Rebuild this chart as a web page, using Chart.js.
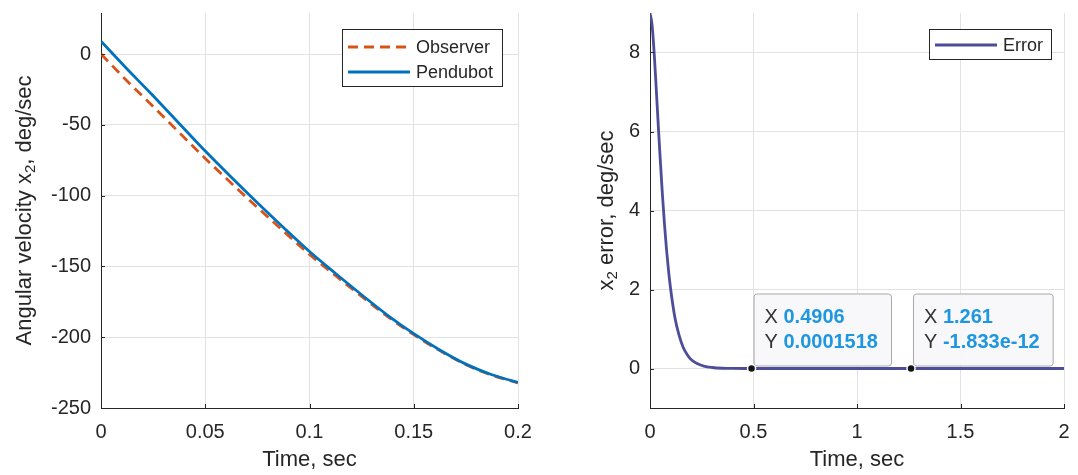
<!DOCTYPE html>
<html>
<head>
<meta charset="utf-8">
<script src="https://cdn.jsdelivr.net/npm/chart.js@4.4.1/dist/chart.umd.min.js"></script>
<style>
html, body { margin: 0; padding: 0; background: #fff; }
#wrap { position: relative; width: 1078px; height: 475px; }
#left { position: absolute; left: 0; top: 0; }
#right { position: absolute; left: 540px; top: 0; }
</style>
</head>
<body>
<div id="wrap">
  <canvas id="left" width="540" height="475"></canvas>
  <canvas id="right" width="538" height="475"></canvas>
</div>
<script>
// left panel: angular velocity x2
const timeLeft = [0, 0.0125, 0.025, 0.0375, 0.05, 0.0625, 0.075, 0.0875, 0.1, 0.1125, 0.125, 0.1375, 0.15, 0.1625, 0.175, 0.1875, 0.2];
const pendubot = [9, -10.5, -29.5, -49, -68.5, -87, -105, -122.5, -139.5, -155, -170, -184.5, -197.5, -209, -219, -226.5, -232];
const observer = [0, -19, -37, -55.4, -73.7, -91.2, -108.3, -125.1, -141.5, -156.5, -171.2, -185.4, -198.2, -209.5, -219.4, -226.8, -232.2];
const xTicksLeft = [0, 0.05, 0.1, 0.15, 0.2];
const yTicksLeft = [-250, -200, -150, -100, -50, 0];

// right panel: x2 error
const timeRight = [0, 0.01, 0.02, 0.03, 0.04, 0.05, 0.06, 0.07, 0.08, 0.09, 0.1, 0.12, 0.14, 0.16, 0.18, 0.2, 0.23, 0.26, 0.3, 0.35, 0.4, 0.4906, 0.6, 0.8, 1, 1.261, 1.5, 2];
const errorVals = [9, 8.7, 8.0, 7.1, 6.15, 5.25, 4.4, 3.65, 3.0, 2.45, 2.0, 1.3, 0.85, 0.54, 0.35, 0.22, 0.12, 0.06, 0.025, 0.006, 0.001, 0.00015, 0, 0, 0, 0, 0, 0];
const xTicksRight = [0, 0.5, 1, 1.5, 2];
const yTicksRight = [0, 2, 4, 6, 8];

// data tips
const tipX = [0.4906, 1.261];
const tipY = [0.0001518, -1.833e-12];
const tipLabels = [['0.4906', '0.0001518'], ['1.261', '-1.833e-12']];

const FONT = '"Liberation Sans", Arial, Helvetica, sans-serif';
const INK = '#262626';

function pts(xs, ys) {
    return xs.map((x, i) => ({ x: x, y: ys[i] }));
}

function axes(xr, xTicks, yr, yTicks, yWidth, xHeight) {
    const tickFont = { family: FONT, size: 20 };
    return {
        x: {
            type: 'linear', min: xr[0], max: xr[1],
            afterBuildTicks: s => { s.ticks = xTicks.map(v => ({ value: v })); },
            afterFit: s => { s.height = xHeight; s.paddingLeft = 0; s.paddingRight = 0; },
            ticks: { font: tickFont, color: INK, padding: 12, maxRotation: 0, autoSkip: false, callback: v => String(v) },
            grid: { color: '#e2e2e2', drawTicks: false },
            border: { color: INK, width: 1 }
        },
        y: {
            type: 'linear', min: yr[0], max: yr[1],
            afterBuildTicks: s => { s.ticks = yTicks.map(v => ({ value: v })); },
            afterFit: s => { s.width = yWidth; s.paddingTop = 0; s.paddingBottom = 0; },
            ticks: { font: tickFont, color: INK, padding: 10, autoSkip: false, callback: v => String(v) },
            grid: { color: '#e2e2e2', drawTicks: false },
            border: { color: INK, width: 1 }
        }
    };
}

// titles, legend, inward ticks and data tips drawn on top of the chart
function decorPlugin(cfg) {
    return {
        id: 'decor',
        afterDraw(chart) {
            const c = chart.ctx;
            const a = chart.chartArea;
            const sx = chart.scales.x, sy = chart.scales.y;
            c.save();

            // inward tick marks
            c.strokeStyle = INK;
            c.lineWidth = 1;
            c.beginPath();
            sx.ticks.forEach(t => {
                const px = Math.round(sx.getPixelForValue(t.value)) + 0.5;
                c.moveTo(px, a.bottom); c.lineTo(px, a.bottom - 4);
            });
            sy.ticks.forEach(t => {
                const py = Math.round(sy.getPixelForValue(t.value)) + 0.5;
                c.moveTo(a.left, py); c.lineTo(a.left + 4, py);
            });
            c.stroke();

            // x title
            c.fillStyle = INK;
            c.font = '22px ' + FONT;
            c.textAlign = 'center';
            c.textBaseline = 'middle';
            c.fillText('Time, sec', (a.left + a.right) / 2, 460);

            // y title with subscript
            c.translate(cfg.yTitleX, (a.top + a.bottom) / 2);
            c.rotate(-Math.PI / 2);
            const parts = cfg.yTitle;
            const big = '22px ' + FONT, small = '15px ' + FONT;
            let w = 0;
            parts.forEach(p => { c.font = p.sub ? small : big; w += c.measureText(p.t).width; });
            let x = -w / 2;
            c.textAlign = 'left';
            parts.forEach(p => {
                c.font = p.sub ? small : big;
                c.fillText(p.t, x, p.sub ? 6 : 0);
                x += c.measureText(p.t).width;
            });
            c.setTransform(1, 0, 0, 1, 0, 0);

            // legend
            const L = cfg.legend;
            c.fillStyle = '#fff';
            c.fillRect(L.x, L.y, L.w, L.h);
            c.strokeStyle = INK;
            c.lineWidth = 1;
            c.strokeRect(L.x + 0.5, L.y + 0.5, L.w, L.h);
            c.font = '18px ' + FONT;
            c.textBaseline = 'middle';
            L.items.forEach((it, i) => {
                const yy = L.y + L.first + i * 25;
                c.strokeStyle = it.color;
                c.lineWidth = 3;
                c.setLineDash(it.dash || []);
                c.beginPath();
                c.moveTo(L.x + 6, yy); c.lineTo(L.x + 68, yy);
                c.stroke();
                c.setLineDash([]);
                c.fillStyle = INK;
                c.fillText(it.label, L.x + 74, yy + 1);
            });

            // data tips
            (cfg.tips || []).forEach(tp => {
                const px = sx.getPixelForValue(tp.x);
                const py = sy.getPixelForValue(tp.y);
                c.font = '20px ' + FONT;
                const wx = c.measureText('X ').width;
                c.font = 'bold 20px ' + FONT;
                const wv = Math.max(c.measureText(tp.lab[0]).width, c.measureText(tp.lab[1]).width);
                const bx = px + 2, by = py - 75, bw = 11 + wx + wv + 13, bh = 72;
                c.fillStyle = 'rgba(248,248,250,0.95)';
                c.strokeStyle = '#a8a8a8';
                c.lineWidth = 1;
                c.beginPath();
                c.roundRect(bx + 0.5, by + 0.5, bw, bh, 3);
                c.fill();
                c.stroke();
                ['X ', 'Y '].forEach((k, j) => {
                    const ty = by + 24 + j * 25;
                    c.font = '20px ' + FONT;
                    c.fillStyle = '#333';
                    c.fillText(k, bx + 11, ty);
                    c.font = 'bold 20px ' + FONT;
                    c.fillStyle = '#1e96e0';
                    c.fillText(tp.lab[j], bx + 11 + wx, ty);
                });
                c.beginPath();
                c.arc(px, py, 4, 0, Math.PI * 2);
                c.fillStyle = '#151515';
                c.fill();
                c.strokeStyle = '#fff';
                c.lineWidth = 1.5;
                c.stroke();
            });
            c.restore();
        }
    };
}

new Chart(document.getElementById('left'), {
    type: 'line',
    data: {
        datasets: [
            { label: 'Observer', data: pts(timeLeft, observer), borderColor: '#d95319', borderWidth: 2.8, borderDash: [10, 6], pointRadius: 0, cubicInterpolationMode: 'monotone', order: 1 },
            { label: 'Pendubot', data: pts(timeLeft, pendubot), borderColor: '#0072bd', borderWidth: 2.8, pointRadius: 0, cubicInterpolationMode: 'monotone', order: 0 }
        ]
    },
    options: {
        responsive: false,
        animation: false,
        layout: { padding: { left: 0, top: 13, right: 22, bottom: 0 } },
        plugins: { legend: { display: false }, tooltip: { enabled: false } },
        scales: axes([0, 0.2], xTicksLeft, [-250, 29], yTicksLeft, 101, 67)
    },
    plugins: [decorPlugin({
        yTitleX: 25,
        yTitle: [{ t: 'Angular velocity x' }, { t: '2', sub: true }, { t: ', deg/sec' }],
        legend: { x: 342, y: 29, w: 160, h: 57, first: 18, items: [
            { label: 'Observer', color: '#d95319', dash: [10, 6] },
            { label: 'Pendubot', color: '#0072bd' }
        ] }
    })]
});

new Chart(document.getElementById('right'), {
    type: 'line',
    data: {
        datasets: [
            { label: 'Error', data: pts(timeRight, errorVals), borderColor: '#4d4d99', borderWidth: 2.8, pointRadius: 0, cubicInterpolationMode: 'monotone' }
        ]
    },
    options: {
        responsive: false,
        animation: false,
        layout: { padding: { left: 0, top: 13, right: 14, bottom: 0 } },
        plugins: { legend: { display: false }, tooltip: { enabled: false } },
        scales: axes([0, 2], xTicksRight, [-1, 9], yTicksRight, 110, 67)
    },
    plugins: [decorPlugin({
        yTitleX: 67,
        yTitle: [{ t: 'x' }, { t: '2', sub: true }, { t: ' error, deg/sec' }],
        legend: { x: 389, y: 29, w: 122, h: 30, first: 16, items: [
            { label: 'Error', color: '#4d4d99' }
        ] },
        tips: tipX.map((x, i) => ({ x: x, y: tipY[i], lab: tipLabels[i] }))
    })]
});
</script>
</body>
</html>
